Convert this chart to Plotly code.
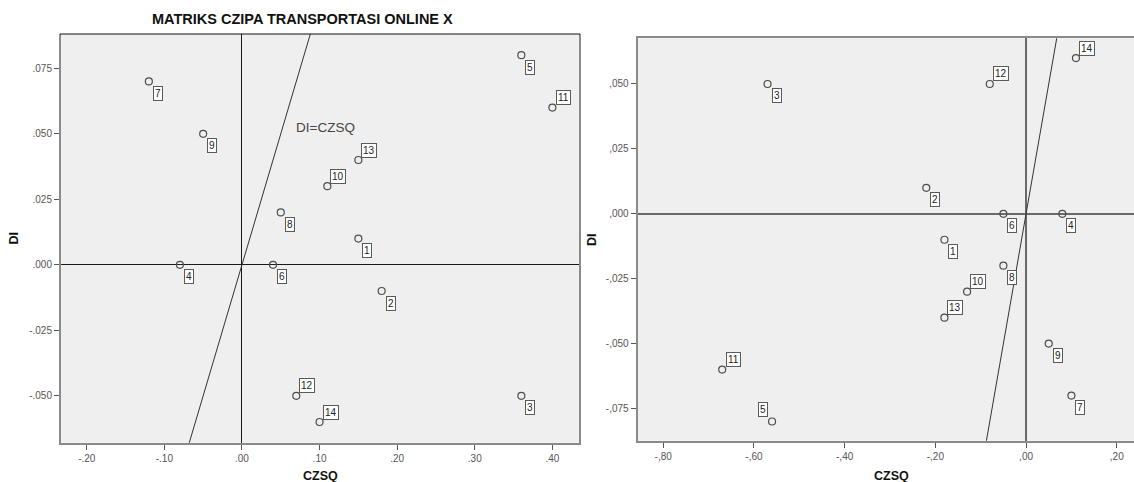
import plotly.graph_objects as go

W, H = 1134, 482

# Point identifiers (shared by both matrices)
ids = [1, 2, 3, 4, 5, 6, 7, 8, 9, 10, 11, 12, 13, 14]

# Left matrix: CZSQ (x) and DI (y)
left_czsq = [0.15, 0.18, 0.36, -0.08, 0.36, 0.04, -0.12, 0.05, -0.05, 0.11, 0.40, 0.07, 0.15, 0.10]
left_di = [0.01, -0.01, -0.05, 0.0, 0.08, 0.0, 0.07, 0.02, 0.05, 0.03, 0.06, -0.05, 0.04, -0.06]

# Right matrix: CZSQ (x) and DI (y)
right_czsq = [-0.18, -0.22, -0.57, 0.08, -0.56, -0.05, 0.10, -0.05, 0.05, -0.13, -0.67, -0.08, -0.18, 0.11]
right_di = [-0.01, 0.01, 0.05, 0.0, -0.08, 0.0, -0.07, -0.02, -0.05, -0.03, -0.06, 0.05, -0.04, 0.06]

# Tick labels
left_xticks = [-0.2, -0.1, 0.0, 0.1, 0.2, 0.3, 0.4]
left_xtext = ["-.20", "-.10", ".00", ".10", ".20", ".30", ".40"]
left_yticks = [-0.05, -0.025, 0.0, 0.025, 0.05, 0.075]
left_ytext = ["-.050", "-.025", ".000", ".025", ".050", ".075"]
right_xticks = [-0.8, -0.6, -0.4, -0.2, 0.0, 0.2]
right_xtext = ["-,80", "-,60", "-,40", "-,20", ",00", ",20"]
right_yticks = [-0.075, -0.05, -0.025, 0.0, 0.025, 0.05]
right_ytext = ["-,075", "-,050", "-,025", ",000", ",025", ",050"]

title_text = "MATRIKS CZIPA TRANSPORTASI ONLINE X"

FONT = "Liberation Sans, Arial, sans-serif"
BG = "#efefef"
BORDER = "#8a8a8a"


def px_x(p):
    return p / W


def px_y(p):
    return (H - p) / H


# label placement: default below-right of the point
ABOVE_RIGHT_L = {10, 11, 12, 13, 14}
ABOVE_RIGHT_R = {10, 11, 12, 13, 14}
ABOVE_LEFT_R = {5}


def label_shift(i, above_right, above_left):
    if i in above_left:
        return -9, 12
    if i in above_right:
        return 11, 10
    return 9, -12


fig = go.Figure()

# identity line DI = CZSQ
line_x = [-1.0, 1.0]
fig.add_trace(go.Scatter(x=line_x, y=line_x, mode="lines", xaxis="x", yaxis="y",
                         line=dict(color="#333333", width=1), hoverinfo="skip"))
fig.add_trace(go.Scatter(x=line_x, y=line_x, mode="lines", xaxis="x2", yaxis="y2",
                         line=dict(color="#333333", width=1), hoverinfo="skip"))

marker = dict(symbol="circle-open", size=7, color="#4d4d4d", line=dict(width=1.2))
fig.add_trace(go.Scatter(x=left_czsq, y=left_di, mode="markers", xaxis="x", yaxis="y",
                         marker=marker, text=ids))
fig.add_trace(go.Scatter(x=right_czsq, y=right_di, mode="markers", xaxis="x2", yaxis="y2",
                         marker=marker, text=ids))

annotations = []
box = dict(showarrow=False, bgcolor="white", bordercolor="#5a5a5a", borderwidth=1,
           borderpad=1, font=dict(family=FONT, size=10, color="#222222"))
for i, xv, yv in zip(ids, left_czsq, left_di):
    dx, dy = label_shift(i, ABOVE_RIGHT_L, set())
    annotations.append(dict(x=xv, y=yv, xref="x", yref="y", text=str(i),
                            xshift=dx, yshift=dy, **box))
for i, xv, yv in zip(ids, right_czsq, right_di):
    dx, dy = label_shift(i, ABOVE_RIGHT_R, ABOVE_LEFT_R)
    annotations.append(dict(x=xv, y=yv, xref="x2", yref="y2", text=str(i),
                            xshift=dx, yshift=dy, **box))

# line caption
annotations.append(dict(x=0.107, y=0.0526, xref="x", yref="y", text="DI=CZSQ",
                        showarrow=False, font=dict(family=FONT, size=13.5, color="#444444")))

# chart title
annotations.append(dict(x=px_x(302), y=px_y(19), xref="paper", yref="paper",
                        text="<b>" + title_text + "</b>", showarrow=False,
                        xanchor="center", yanchor="middle",
                        font=dict(family=FONT, size=14.5, color="#111111")))

# axis titles
title_font = dict(family=FONT, size=12.5, color="#111111")
for xp, yp, txt, ang in [(320, 476, "CZSQ", 0), (13.5, 238, "DI", -90),
                         (891, 476, "CZSQ", 0), (592, 240, "DI", -90)]:
    annotations.append(dict(x=px_x(xp), y=px_y(yp), xref="paper", yref="paper",
                            text="<b>" + txt + "</b>", showarrow=False, textangle=ang,
                            xanchor="center", yanchor="middle", font=title_font))

tick_font = dict(family=FONT, size=10, color="#555555")
axis_common = dict(showgrid=False, ticks="outside", ticklen=5, tickwidth=1,
                   tickcolor="#555555", tickfont=tick_font, showline=True,
                   linecolor=BORDER, linewidth=2, fixedrange=True)

fig.update_layout(
    width=W, height=H,
    margin=dict(l=0, r=0, t=0, b=0),
    paper_bgcolor="white",
    plot_bgcolor=BG,
    showlegend=False,
    xaxis=dict(domain=[px_x(61), px_x(579)], range=[-0.2332, 0.4343], anchor="y",
               tickvals=left_xticks, ticktext=left_xtext, mirror=False,
               zeroline=True, zerolinecolor="#1a1a1a", zerolinewidth=1, **axis_common),
    yaxis=dict(domain=[px_y(442.7), px_y(34)], range=[-0.0679, 0.0881], anchor="x",
               tickvals=left_yticks, ticktext=left_ytext, mirror=True,
               zeroline=True, zerolinecolor="#1a1a1a", zerolinewidth=1, **axis_common),
    xaxis2=dict(domain=[px_x(637.6), 1.0], range=[-0.8565, 0.238], anchor="y2",
                tickvals=right_xticks, ticktext=right_xtext, mirror=True,
                zeroline=True, zerolinecolor="#6a6a6a", zerolinewidth=2, **axis_common),
    yaxis2=dict(domain=[px_y(440.7), px_y(38.3)], range=[-0.0874, 0.0676], anchor="x2",
                tickvals=right_yticks, ticktext=right_ytext, mirror=False,
                zeroline=True, zerolinecolor="#6a6a6a", zerolinewidth=2, **axis_common),
    annotations=annotations,
    shapes=[dict(type="line", xref="paper", yref="paper", x0=px_x(60), x1=px_x(580),
                 y0=px_y(34), y1=px_y(34), line=dict(color="#111111", width=1))],
)

fig.write_html("out.html")
